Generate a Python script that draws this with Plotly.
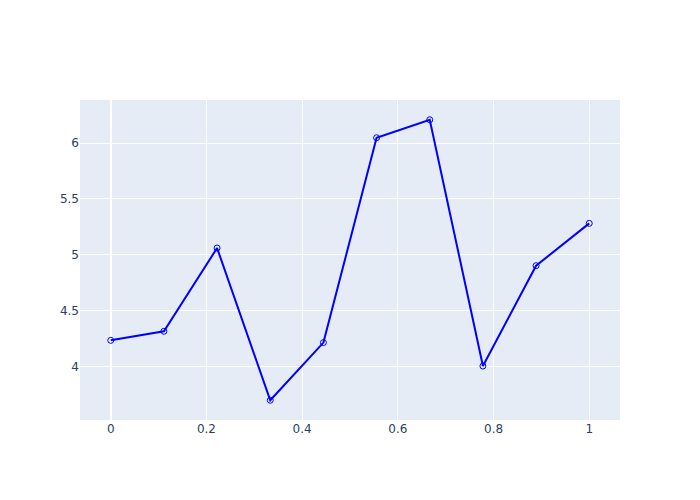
import numpy as np
import plotly.graph_objects as go

x_values = [0, 1/9, 2/9, 3/9, 4/9, 5/9, 6/9, 7/9, 8/9, 1]
y_values = [4.235, 4.316, 5.061, 3.699, 4.215, 6.048, 6.209, 4.005, 4.903, 5.282]

fig = go.Figure()
fig.add_trace(go.Scatter(
    x=x_values, y=y_values, mode="lines+markers",
    line=dict(color="blue", width=2),
    marker=dict(symbol="circle-open", size=6, color="blue"),
))
fig.update_layout(width=700, height=500, template="plotly",
                  font=dict(family="DejaVu Sans, Verdana, sans-serif"))
fig.write_html("out.html", config={"displayModeBar": False},
               post_script="document.body.style.margin='0';document.body.style.padding='0';")
